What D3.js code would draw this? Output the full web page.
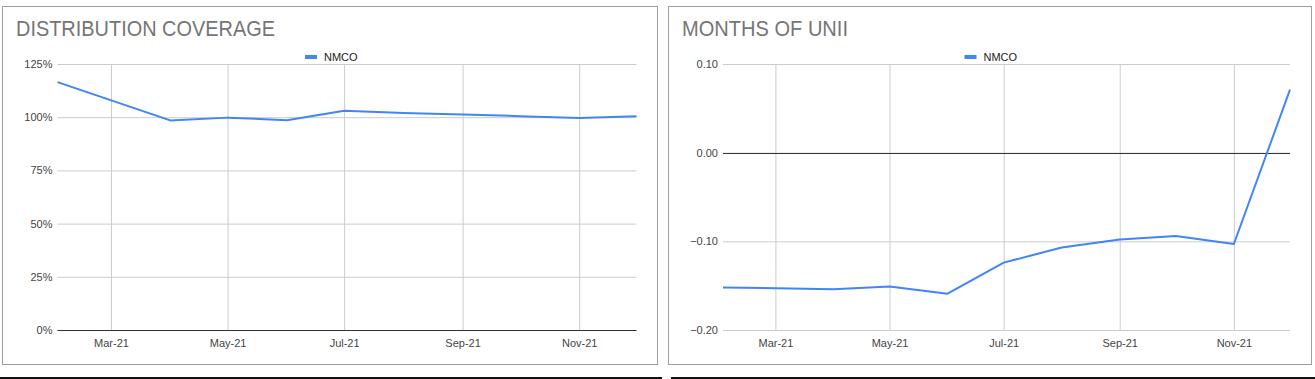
<!DOCTYPE html>
<html>
<head>
<meta charset="utf-8">
<script src="https://cdn.jsdelivr.net/npm/d3@7"></script>
<style>
  body { margin: 0; background: #fff; }
  svg text { font-family: Arial, "Liberation Sans", sans-serif; }
</style>
</head>
<body>
<script>
// data
const months = ["2021-02-01", "2021-04-01", "2021-05-01", "2021-06-01", "2021-07-01",
                "2021-08-01", "2021-09-01", "2021-10-01", "2021-11-01", "2021-12-01"];
const coverage = [1.165, 0.985, 0.998, 0.986, 1.03, 1.02, 1.013, 1.005, 0.996, 1.005];
const monthsOfUnii = [-0.152, -0.154, -0.151, -0.159, -0.124, -0.107, -0.098, -0.094, -0.103, 0.071];
const coverageTicks = [0, 0.25, 0.5, 0.75, 1, 1.25];
const uniiTicks = [-0.2, -0.1, 0, 0.1];
const xTickMonths = ["2021-03-01", "2021-05-01", "2021-07-01", "2021-09-01", "2021-11-01"];
const seriesName = "NMCO";

const parseDate = d3.timeParse("%Y-%m-%d");
const dates = months.map(parseDate);
const xTicks = xTickMonths.map(parseDate);

let svg = d3.select("body").append("svg").attr("width", 1315).attr("height", 379);

function drawPanel(opt){
	let g = svg.append("g");

	// card border
	g.append("rect")
		.attr("x", opt.box[0] + 0.5).attr("y", 6.5)
		.attr("width", opt.box[1] - opt.box[0]).attr("height", 358)
		.attr("fill", "#fff").attr("stroke", "#9e9e9e");

	// rule under the card
	g.append("rect")
		.attr("x", opt.rule[0]).attr("y", 377)
		.attr("width", opt.rule[1] - opt.rule[0]).attr("height", 2)
		.attr("fill", "#111");

	g.append("text")
		.attr("x", opt.box[0] + 14).attr("y", 36)
		.attr("font-size", 22).attr("fill", "#757575")
		.attr("textLength", opt.titleLen).attr("lengthAdjust", "spacingAndGlyphs")
		.text(opt.title);

	let xScale = d3.scaleTime()
		.domain([dates[0], dates[dates.length - 1]])
		.range([opt.left, opt.right]);

	let yScale = d3.scaleLinear()
		.domain(opt.yDomain)
		.range([330, 64]);

	let yAxis = d3.axisLeft(yScale)
		.tickValues(opt.yTicks)
		.tickSize(-(opt.right - opt.left))
		.tickPadding(5)
		.tickFormat(opt.fmt);

	let yg = g.append("g")
		.attr("transform", `translate(${opt.left},0)`)
		.call(yAxis);
	yg.select(".domain").remove();
	yg.selectAll("line").attr("stroke", "#cccccc");
	yg.selectAll("text").attr("font-size", 11).attr("fill", "#444").attr("font-family", "Arial, 'Liberation Sans', sans-serif");

	let xAxis = d3.axisBottom(xScale)
		.tickValues(xTicks)
		.tickSize(-(330 - 64))
		.tickPadding(9)
		.tickFormat(d3.timeFormat("%b-%y"));

	let xg = g.append("g")
		.attr("transform", "translate(0,330)")
		.call(xAxis);
	xg.select(".domain").remove();
	xg.selectAll("line").attr("stroke", "#cccccc");
	xg.selectAll("text").attr("font-size", 11).attr("fill", "#444").attr("font-family", "Arial, 'Liberation Sans', sans-serif");

	// baseline at zero
	g.append("line")
		.attr("x1", opt.left).attr("x2", opt.right)
		.attr("y1", Math.round(yScale(0)) + 0.5).attr("y2", Math.round(yScale(0)) + 0.5)
		.attr("stroke", "#333");

	let line = d3.line()
		.x((d, i) => xScale(dates[i]))
		.y(d => yScale(d));

	g.append("path")
		.datum(opt.values)
		.attr("d", line)
		.attr("fill", "none")
		.attr("stroke", "#4285f4")
		.attr("stroke-width", 2)
		.attr("stroke-linejoin", "round");

	// legend
	let lx = (opt.left + opt.right) / 2 - 42;
	g.append("rect")
		.attr("x", lx).attr("y", 55)
		.attr("width", 12).attr("height", 4)
		.attr("fill", "#4285f4");
	g.append("text")
		.attr("x", lx + 19).attr("y", 61)
		.attr("font-size", 11).attr("fill", "#222")
		.text(seriesName);
}

drawPanel({
	title: "DISTRIBUTION COVERAGE", titleLen: 259,
	box: [2, 657], rule: [0, 662],
	left: 57.5, right: 636.5,
	yDomain: [0, 1.25], yTicks: coverageTicks, fmt: d3.format(".0%"),
	values: coverage
});

drawPanel({
	title: "MONTHS OF UNII", titleLen: 166,
	box: [668, 1311], rule: [671, 1315],
	left: 723, right: 1290,
	yDomain: [-0.2, 0.1], yTicks: uniiTicks, fmt: d3.format(".2f"),
	values: monthsOfUnii
});
</script>
</body>
</html>
